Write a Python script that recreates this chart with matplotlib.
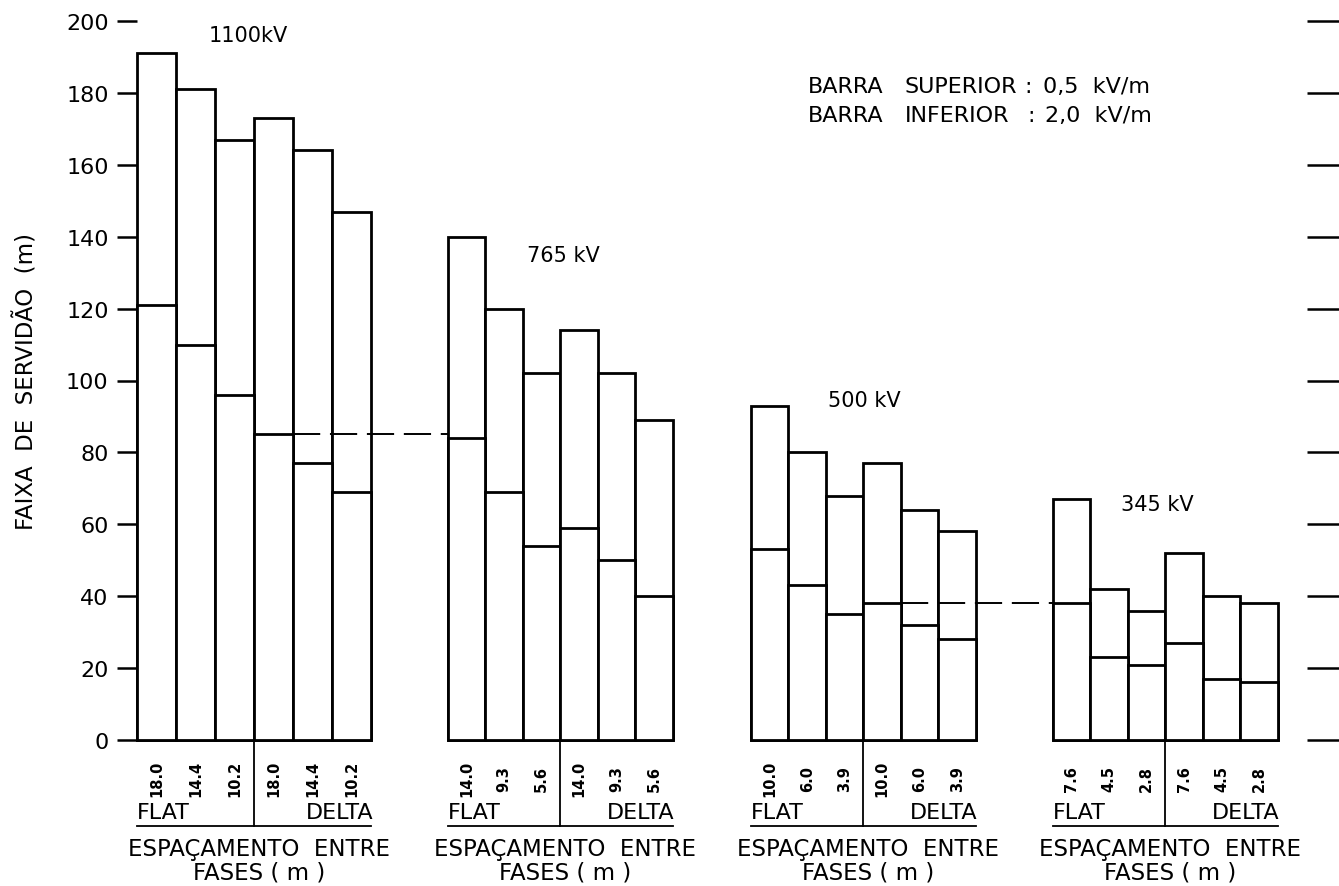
import matplotlib
matplotlib.use("Agg")
import matplotlib.pyplot as plt

# ---------------- data ----------------
voltages = ["1100kV", "765 kV", "500 kV", "345 kV"]
spacing_1100 = ["18.0", "14.4", "10.2", "18.0", "14.4", "10.2"]
spacing_765 = ["14.0", "9.3", "5.6", "14.0", "9.3", "5.6"]
spacing_500 = ["10.0", "6.0", "3.9", "10.0", "6.0", "3.9"]
spacing_345 = ["7.6", "4.5", "2.8", "7.6", "4.5", "2.8"]

# upper bar (0,5 kV/m) and lower bar (2,0 kV/m); first 3 = FLAT, last 3 = DELTA
upper_1100 = [191, 181, 167, 173, 164, 147]
lower_1100 = [121, 110, 96, 85, 77, 69]
upper_765 = [140, 120, 102, 114, 102, 89]
lower_765 = [84, 69, 54, 59, 50, 40]
upper_500 = [93, 80, 68, 77, 64, 58]
lower_500 = [53, 43, 35, 38, 32, 28]
upper_345 = [67, 42, 36, 52, 40, 38]
lower_345 = [38, 23, 21, 27, 17, 16]

yticks = [0, 20, 40, 60, 80, 100, 120, 140, 160, 180, 200]

spacings = [spacing_1100, spacing_765, spacing_500, spacing_345]
uppers = [upper_1100, upper_765, upper_500, upper_345]
lowers = [lower_1100, lower_765, lower_500, lower_345]

# ---------------- layout ----------------
W, H = 1339, 887
fig = plt.figure(figsize=(W / 100, H / 100), dpi=100)
ax_left, ax_right, y0px, y200px = 137, 1307, 741, 22
ax = fig.add_axes([ax_left / W, 1 - y0px / H, (ax_right - ax_left) / W, (y0px - y200px) / H])
ax.set_xlim(ax_left, ax_right)
ax.set_ylim(0, 200)
for s in ax.spines.values():
    s.set_visible(False)

FONT = "DejaVu Sans"
plt.rcParams["font.family"] = [FONT]

group_start = [137, 448, 751, 1053]
bar_w = [39, 37.5, 37.5, 37.5]
title_pos = [(248, 196), (563, 135), (864, 94.6), (1157, 65.6)]
LW = 2.0

for g in range(4):
    x0 = group_start[g]
    w = bar_w[g]
    xs = [x0 + w * (i + 0.5) for i in range(6)]
    ax.bar(xs, uppers[g], width=w, color="white", edgecolor="black", linewidth=LW, clip_on=False, zorder=2)
    ax.bar(xs, lowers[g], width=w, color="white", edgecolor="black", linewidth=LW, clip_on=False, zorder=3)
    # spacing labels
    for x, lab in zip(xs, spacings[g]):
        ax.text(x, -10.6, lab, rotation=90, ha="center", va="center", fontsize=10.5,
                fontweight="bold", clip_on=False)
    x_end = x0 + 6 * w
    x_mid = x0 + 3 * w
    # divider and underline
    ax.plot([x_mid, x_mid], [0, -23.8], color="black", lw=1.3, clip_on=False)
    ax.plot([x0, x_end], [-23.8, -23.8], color="black", lw=1.3, clip_on=False)
    ax.text(x0, -22.9, "FLAT", ha="left", va="bottom", fontsize=16, clip_on=False)
    ax.text(x_end + 2, -22.9, "DELTA", ha="right", va="bottom", fontsize=16, clip_on=False)
    cx = (x0 + x_end) / 2 + 5
    ax.text(cx, -30.2, "ESPAÇAMENTO  ENTRE", ha="center", va="center", fontsize=16.5, clip_on=False)
    ax.text(cx, -36.7, "FASES ( m )", ha="center", va="center", fontsize=16.5, clip_on=False)
    # voltage title
    tx, ty = title_pos[g]
    ax.text(tx, ty, voltages[g], ha="center", va="center", fontsize=15)

# dashed connection lines
for ga, gb in [(0, 1), (2, 3)]:
    xa = group_start[ga] + 4 * bar_w[ga]
    xb = group_start[gb]
    yv = lowers[ga][3]
    ax.plot([xa, xb], [yv, yv], color="black", lw=1.4, linestyle=(0, (14, 5)), zorder=4, clip_on=False)

# legend text
LFS = 16
ax.text(808, 181.8, "BARRA", ha="left", va="center", fontsize=LFS)
ax.text(905, 181.8, "SUPERIOR", ha="left", va="center", fontsize=LFS)
ax.text(1024, 181.8, ":", ha="left", va="center", fontsize=LFS)
ax.text(1043, 181.8, "0,5  kV/m", ha="left", va="center", fontsize=LFS)
ax.text(808, 173.8, "BARRA", ha="left", va="center", fontsize=LFS)
ax.text(905, 173.8, "INFERIOR", ha="left", va="center", fontsize=LFS)
ax.text(1027, 173.8, ":", ha="left", va="center", fontsize=LFS)
ax.text(1045, 173.8, "2,0  kV/m", ha="left", va="center", fontsize=LFS)

# ticks
ax.set_yticks(yticks)
ax.set_yticklabels([str(t) for t in yticks])
ax.tick_params(axis="y", which="both", left=True, right=True, labelleft=True, labelright=False,
               direction="out", width=1.8, length=14.4, pad=6, labelsize=16)
for t in ax.yaxis.get_major_ticks():
    t.tick2line.set_markersize(23)
ax.set_xticks([])

ax.set_ylabel("FAIXA  DE  SERVIDÃO  (m)", fontsize=16.5)
ax.yaxis.set_label_coords(-(137 - 38) / (ax_right - ax_left), (741 - 381) / (741 - 22))

fig.savefig("out.png", dpi=100)
